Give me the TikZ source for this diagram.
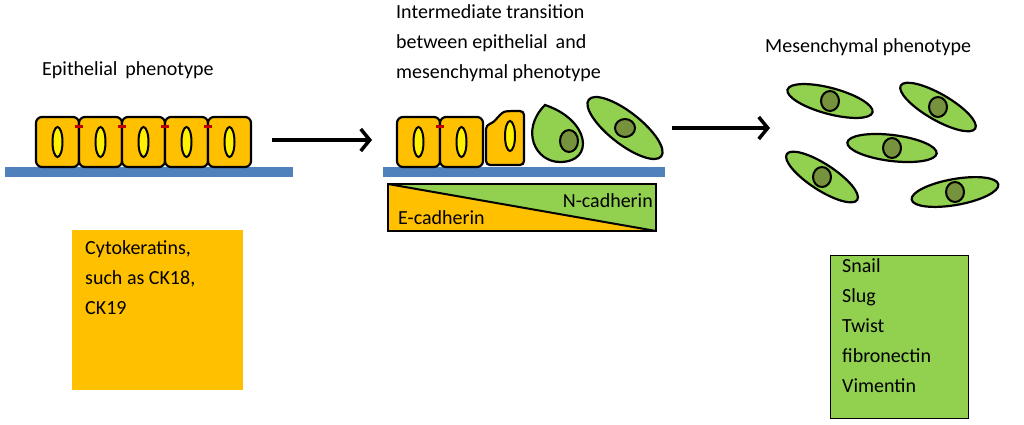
\documentclass[tikz,border=0pt]{standalone}
\usepackage{fontspec}
\setmainfont{Carlito}
\usetikzlibrary{arrows.meta}
\definecolor{epiorange}{RGB}{255,192,0}
\definecolor{mesgreen}{RGB}{146,208,80}
\definecolor{nucgreen}{RGB}{118,146,60}
\definecolor{barblue}{RGB}{79,129,189}
\definecolor{junred}{RGB}{192,0,0}
\tikzset{
  epi/.style={draw=black,line width=2.2pt,fill=epiorange,rounded corners=6pt},
  nuc/.style={draw=black,line width=2pt,fill=yellow},
  mes/.style={draw=black,line width=2.2pt,fill=mesgreen},
  mnuc/.style={draw=black,line width=2pt,fill=nucgreen},
  lbl/.style={font=\fontsize{20}{30}\selectfont,align=left,inner sep=0pt},
  stage arrow/.style={line width=3.5pt,-{Straight Barb[length=9pt,width=22pt,line width=3.5pt]}}
}
\begin{document}
\begin{tikzpicture}[x=1pt,y=-1pt]
  \useasboundingbox (0,0) rectangle (1024,424);
  % titles
  \node[lbl,anchor=west] (tEpi) at (42,70) {Epithelial\, phenotype};
  \node[lbl,anchor=north west] (tMid) at (396,4) {Intermediate transition\\between epithelial\, and\\mesenchymal phenotype};
  \node[lbl,anchor=west] (tMes) at (765,47) {Mesenchymal phenotype};
  % epithelial layer
  \fill[barblue] (5,167) rectangle (293,177);
  \foreach \x in {36,79,122,165,208}{
    \draw[epi] (\x,117) rectangle ++(43,50);
    \draw[nuc] (\x+21.5,142) ellipse (5 and 15);
  }
  \foreach \x in {79,122,165,208}
    \fill[junred] (\x-4,125) rectangle ++(8,3);
  % intermediate
  \fill[barblue] (383,167) rectangle (665,177);
  \foreach \x in {397,440}{
    \draw[epi] (\x,117) rectangle ++(43,50);
    \draw[nuc] (\x+21.5,142) ellipse (5 and 15);
  }
  \fill[junred] (436,125) rectangle ++(8,3);
  \draw[epi,rounded corners=4pt] (486,165) -- (486,125) .. controls (496,122) and (500,112) .. (510,111)
     -- (524,111) -- (524,165) -- cycle;
  \draw[nuc] (510,136) ellipse (5 and 15);
  \draw[mes] (545,105) .. controls (520,130) and (535,162) .. (560,162)
     .. controls (595,162) and (590,120) .. (545,105) -- cycle;
  \draw[mnuc] (569,141) ellipse (9 and 11);
  \draw[mes,rotate around={-38:(625,128)}] (625,128) ellipse (46 and 16);
  \draw[mnuc] (625,128) ellipse (10 and 9);
  % cadherin gradient
  \fill[epiorange] (388,184) -- (656,231) -- (388,231) -- cycle;
  \fill[mesgreen] (388,184) -- (656,184) -- (656,231) -- cycle;
  \draw[line width=2pt] (388,184) rectangle (656,231);
  \draw[line width=2pt] (388,184) -- (656,231);
  \node[lbl,anchor=east] (nCad) at (653,201) {N-cadherin};
  \node[lbl,anchor=west] (eCad) at (398,218) {E-cadherin};
  % mesenchymal cells
  \foreach \cx/\cy/\ang/\len in {830/101/-15/44, 938/107/-30/43, 892/148/-7/45, 822/177/-33/42, 955/192/10/44}{
    \draw[mes,rotate around={\ang:(\cx,\cy)}] (\cx,\cy) ellipse (\len pt and 13pt);
    \draw[mnuc] (\cx,\cy) ellipse (9 and 10);
  }
  % arrows
  \coordinate (a1s) at (272,140); \coordinate (a1e) at (372,140);
  \coordinate (a2s) at (672,128); \coordinate (a2e) at (770,128);
  \draw[stage arrow] (a1s) -- (a1e);
  \draw[stage arrow] (a2s) -- (a2e);
  % marker boxes
  \fill[epiorange] (72,230) rectangle (243,390);
  \node[lbl,anchor=north west] (ck) at (85,240) {Cytokeratins,\\such as CK18,\\CK19};
  \draw[fill=mesgreen,line width=1pt] (830,255) rectangle (968,418);
  \node[lbl,anchor=north west] (tf) at (842,258) {Snail\\Slug\\Twist\\fibronectin\\Vimentin};
\end{tikzpicture}
\end{document}
